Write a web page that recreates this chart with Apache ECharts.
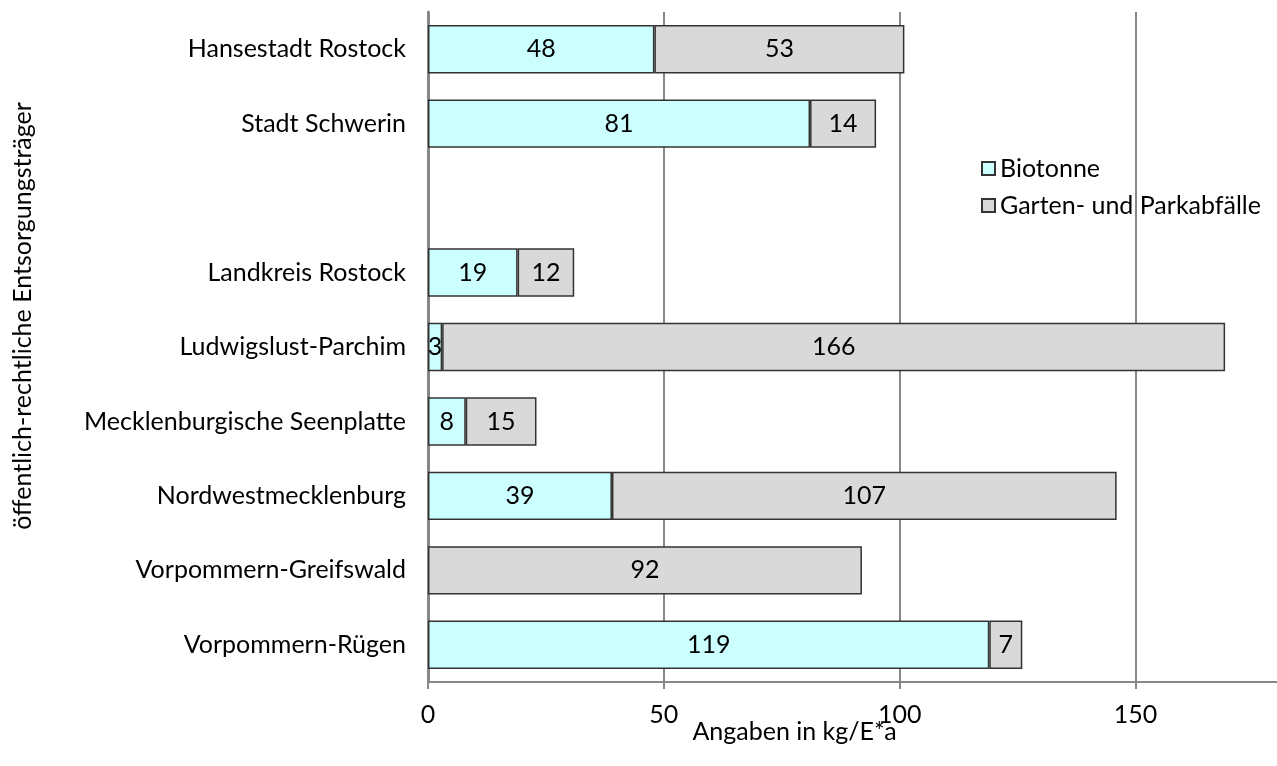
<!DOCTYPE html>
<html>
<head>
<meta charset="utf-8">
<script src="https://cdn.jsdelivr.net/npm/echarts@6/dist/echarts.min.js"></script>
<style>
  html, body { margin: 0; padding: 0; background: #fff; }
  #chart { width: 1277px; height: 766px; }
</style>
</head>
<body>
<div id="chart"></div>
<script>
// Kategorien von oben nach unten (leere Zeile zwischen Städten und Landkreisen)
const categories = [
  'Hansestadt Rostock',
  'Stadt Schwerin',
  '',
  'Landkreis Rostock',
  'Ludwigslust-Parchim',
  'Mecklenburgische Seenplatte',
  'Nordwestmecklenburg',
  'Vorpommern-Greifswald',
  'Vorpommern-Rügen',
];
const biotonne = [48, 81, null, 19, 3, 8, 39, null, 119];
const gartenPark = [53, 14, null, 12, 166, 15, 107, 92, 7];
const xTicks = [0, 50, 100, 150];

const FONT = 'Lato';
const FS = 25;
const AXIS_GREY = '#878787';

const chart = echarts.init(document.getElementById('chart'));

const barLabel = {
  show: true,
  position: 'inside',
  color: '#000',
  fontFamily: FONT,
  fontSize: FS,
};

const option = {
  animation: false,
  textStyle: { fontFamily: FONT },
  grid: {
    left: 428,
    right: 0,
    top: 12,
    bottom: 84,
    outerBoundsMode: 'none',
  },
  legend: {
    left: 976,
    top: 151,
    orient: 'vertical',
    itemWidth: 13,
    itemHeight: 13,
    itemGap: 12,
    icon: 'rect',
    textStyle: { fontFamily: FONT, fontSize: FS, color: '#000' },
    data: ['Biotonne', 'Garten- und Parkabfälle'],
  },
  xAxis: {
    type: 'value',
    min: 0,
    max: 180,
    interval: 50,
    name: 'Angaben in kg/E*a',
    nameLocation: 'middle',
    nameGap: 37,
    nameMoveOverlap: false,
    nameTextStyle: {
      fontFamily: FONT,
      fontSize: FS,
      color: '#000',
      padding: [0, 116, 0, 0],
    },
    axisLine: { show: true, lineStyle: { color: AXIS_GREY, width: 2 } },
    axisTick: { show: true, length: 7, lineStyle: { color: AXIS_GREY, width: 2 } },
    axisLabel: {
      fontFamily: FONT,
      fontSize: FS,
      color: '#000',
      margin: 20,
      showMaxLabel: false,
      formatter: (v) => (xTicks.includes(v) ? String(v) : ''),
    },
    splitLine: {
      show: true,
      showMaxLine: false,
      lineStyle: { color: AXIS_GREY, width: 2 },
    },
  },
  yAxis: {
    type: 'category',
    inverse: true,
    data: categories,
    name: 'öffentlich-rechtliche Entsorgungsträger',
    nameLocation: 'middle',
    nameGap: 393,
    nameMoveOverlap: false,
    nameRotate: 90,
    nameTextStyle: {
      fontFamily: FONT,
      fontSize: FS,
      color: '#000',
      padding: [0, 0, 0, 62],
    },
    axisLine: { show: true, lineStyle: { color: AXIS_GREY, width: 3 } },
    axisTick: { show: false },
    axisLabel: {
      fontFamily: FONT,
      fontSize: FS,
      color: '#000',
      margin: 22,
    },
  },
  series: [
    {
      name: 'Biotonne',
      type: 'bar',
      stack: 'total',
      barCategoryGap: '35%',
      data: biotonne,
      itemStyle: { color: '#ccffff', borderColor: '#333', borderWidth: 1.5 },
      label: barLabel,
    },
    {
      name: 'Garten- und Parkabfälle',
      type: 'bar',
      stack: 'total',
      barCategoryGap: '35%',
      data: gartenPark,
      itemStyle: { color: '#d9d9d9', borderColor: '#333', borderWidth: 1.5 },
      label: barLabel,
    },
  ],
};

chart.setOption(option);
</script>
</body>
</html>
